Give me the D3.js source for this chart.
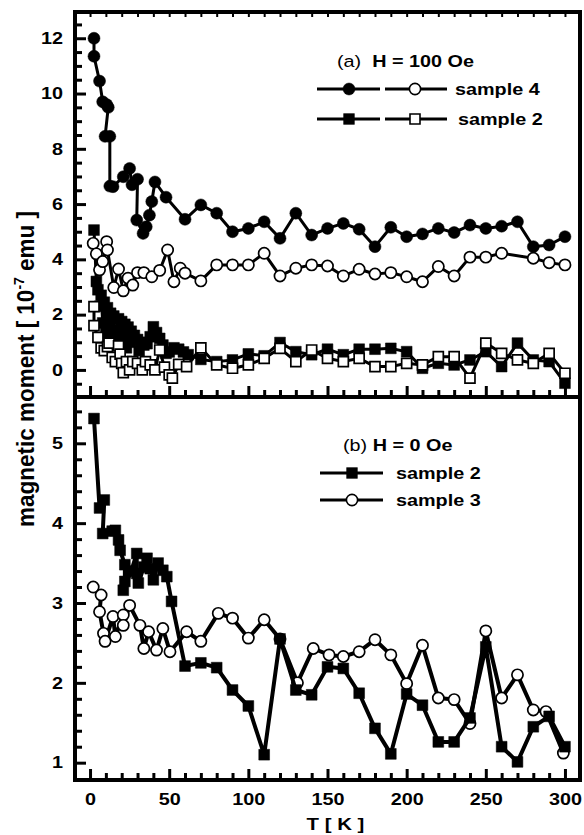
<!DOCTYPE html>
<html><head><meta charset="utf-8">
<script src="https://cdn.jsdelivr.net/npm/d3@7"></script>
<style>
body{margin:0;background:#fff}
svg{display:block}
text{font-family:"Liberation Sans",Arial,Helvetica,sans-serif;fill:#000}
</style>
</head><body>
<svg id="chart" width="584" height="835"></svg>
<script>
// ---------- data ----------
// Panel (a), H = 100 Oe
const s4FilledT = [2.5,2.5,6,8,10.5,11.5,9.5,12.5,12.5,14.5,21,25,26.5,30,29.5,33.5,35.5,37.5,39,41,48,60,70,80,90,100,110,120,130,140,150,160,170,180,190,200,210,220,230,240,250,260,270,280,290,300];
const s4FilledV = [12.0,11.35,10.45,9.7,9.6,9.5,8.45,8.45,6.65,6.63,6.99,7.29,6.7,6.9,5.42,4.94,5.18,5.6,6.09,6.8,6.25,5.45,5.97,5.67,5.0,5.12,5.36,4.76,5.67,4.88,5.12,5.3,5.09,4.46,5.16,4.82,4.92,5.12,4.97,5.24,5.12,5.2,5.36,4.46,4.52,4.82];

const s4OpenT = [2,4,6,8,10.5,11,15,18,21,24,27,30,34,39,44,49,53,57,60,70,80,90,100,110,120,130,140,150,160,170,180,190,200,210,220,230,240,250,260,280,290,300];
const s4OpenV = [4.58,4.2,3.62,3.92,4.64,4.34,2.98,3.65,2.86,3.32,3.07,3.52,3.52,3.37,3.6,4.34,3.19,3.68,3.5,3.22,3.8,3.8,3.8,4.22,3.4,3.68,3.8,3.76,3.4,3.64,3.47,3.52,3.37,3.19,3.74,3.4,4.08,4.08,4.22,4.04,3.88,3.8];

const s2aFilledT = [2.5,4,5,6,7,8,9,10,11,12,13,14,15,16,18,19,20,21,22,23,24,25,26,28,30,31,32,34,36,38,40,42,44,46,48,50,53,56,59,62,70,80,90,100,110,120,130,140,150,160,170,180,190,200,210,220,230,240,250,260,270,280,290,300];
const s2aFilledV = [5.06,3.2,2.9,2.3,2.7,1.7,2.45,1.35,2.25,1.15,2.05,1.0,1.95,1.2,1.85,0.9,1.75,1.0,1.65,0.8,1.55,1.0,1.4,1.25,1.1,0.7,1.0,0.9,0.95,1.2,1.56,1.35,1.14,0.9,0.6,0.65,0.8,0.75,0.65,0.55,0.38,0.3,0.36,0.58,0.51,0.99,0.66,0.55,0.75,0.55,0.75,0.75,0.78,0.66,0.06,0.24,0.18,0.36,0.66,0.12,0.97,0.36,0.3,-0.48];

const s2aOpenT = [2.5,2.5,5,7,9,11,12,14,16,18,19,20,21,23,25,27,30,33,35,38,41,44,47,50,52,56,61,70,80,90,100,110,120,130,140,150,160,170,180,190,200,210,220,230,240,250,260,270,280,290,300];
const s2aOpenV = [2.29,1.6,1.18,0.8,0.7,0.84,0.97,0.45,0.3,0.87,0.57,0.24,-0.1,0.3,0.0,0.3,0.24,0.0,0.3,0.18,0.0,0.72,0.1,-0.18,-0.3,0.2,0.12,0.8,0.18,0.06,0.18,0.42,0.78,0.3,0.72,0.42,0.3,0.42,0.12,0.12,0.24,0.18,0.48,0.48,-0.3,0.97,0.6,0.36,0.24,0.6,-0.12];

// Panel (b), H = 0 Oe
const s2bT = [2.5,6,9,8,14,16,18,19,22,22,21,26,29.5,29.5,30.5,34,36,38,40,43,46,48.5,51.5,60,70,80,90,100,110,120,130,140,150,160,170,180,190,200,210,220,230,240,250,260,270,280,290,300];
const s2bV = [5.31,4.19,4.29,3.87,3.9,3.91,3.79,3.66,3.48,3.27,3.16,3.4,3.62,3.37,3.25,3.45,3.56,3.43,3.29,3.5,3.41,3.33,3.02,2.21,2.25,2.19,1.91,1.71,1.1,2.55,1.91,1.85,2.2,2.18,1.87,1.43,1.11,1.86,1.72,1.26,1.26,1.56,2.45,1.2,1.01,1.45,1.58,1.2];

const s3bT = [2,7,6,8.5,9.5,14.5,16,21,21,25,31.5,34,37,42,46,50.5,61,70,81,90,100,110,120,131,141,151,160,170,180,190,200,210,220,230,240,250,260,270,280,288,299];
const s3bV = [3.2,3.1,2.89,2.62,2.52,2.83,2.58,2.85,2.72,2.97,2.72,2.43,2.64,2.41,2.68,2.39,2.64,2.52,2.87,2.81,2.56,2.79,2.55,2.0,2.43,2.35,2.33,2.39,2.54,2.35,1.99,2.47,1.81,1.79,1.49,2.65,1.81,2.1,1.66,1.64,1.12];

// ticks
const xMajor = [0,50,100,150,200,250,300];
const yaMajor = [0,2,4,6,8,10,12];
const ybMajor = [1,2,3,4,5];

// ---------- setup ----------
const svg = d3.select("#chart");
const X0 = 75, X1 = 580, YT = 12, YM = 397, YB = 780;
const xs = d3.scaleLinear().domain([-9.5, 309.5]).range([X0, X1]);
const ya = d3.scaleLinear().domain([-0.98, 12.95]).range([YM, YT]);
const yb = d3.scaleLinear().domain([0.783, 5.58]).range([YB, YM]);
const SX = 1.2; // horizontal stretch of the scanned lettering
const FS = 16.5;

function range(a, b, s) { const r = []; for (let v = a; v <= b + 1e-9; v += s) r.push(+v.toFixed(4)); return r; }
const xMinor = range(0, 300, 10).filter(v => !xMajor.includes(v));
const yaMinor = range(-0.5, 12.5, 0.5).filter(v => !yaMajor.includes(v));
const ybMinor = range(1.2, 5.4, 0.2).filter(v => !ybMajor.some(m => Math.abs(m - v) < 1e-6));

// ---------- axes ----------
function styleAxis(g) {
  g.select(".domain").remove();
  g.selectAll(".tick line").attr("stroke", "#000").attr("stroke-width", 3);
}
function stretchLabels(g) {
  g.selectAll(".tick text").each(function() {
    const t = d3.select(this);
    const x = +t.attr("x") || 0, y = +t.attr("y") || 0;
    t.attr("x", 0).attr("y", 0)
     .attr("transform", `translate(${x},${y}) scale(${SX},1)`)
     .attr("font-size", FS).attr("font-weight", "bold").attr("font-family", '"Liberation Sans",Arial,sans-serif');
  });
}

[[ya, yaMajor, yaMinor], [yb, ybMajor, ybMinor]].forEach(([sc, maj, mnr]) => {
  const gMin = svg.append("g").attr("transform", `translate(${X0},0)`)
    .call(d3.axisLeft(sc).tickValues(mnr).tickSize(-7).tickFormat(""));
  styleAxis(gMin);
  const gMaj = svg.append("g").attr("transform", `translate(${X0},0)`)
    .call(d3.axisLeft(sc).tickValues(maj).tickSize(-11).tickPadding(12).tickFormat(d3.format("d")));
  styleAxis(gMaj); stretchLabels(gMaj);
});

[[YM, false], [YB, true]].forEach(([yy, labels]) => {
  const gMin = svg.append("g").attr("transform", `translate(0,${yy})`)
    .call(d3.axisBottom(xs).tickValues(xMinor).tickSize(-7).tickFormat(""));
  styleAxis(gMin);
  const ax = d3.axisBottom(xs).tickValues(xMajor).tickSize(-11).tickPadding(13);
  if (!labels) ax.tickFormat("");
  const gMaj = svg.append("g").attr("transform", `translate(0,${yy})`).call(ax);
  styleAxis(gMaj); if (labels) stretchLabels(gMaj);
});

const gTop = svg.append("g").attr("transform", `translate(0,${YT})`)
  .call(d3.axisTop(xs).tickValues(range(0, 300, 10)).tickSize(-5).tickFormat(""));
gTop.select(".domain").remove();
gTop.selectAll(".tick line").attr("stroke", "#000").attr("stroke-width", 2);

// ---------- series ----------
const sym = (type, size) => d3.symbol().type(type).size(size)();
const CIRC_F = sym(d3.symbolCircle, Math.PI * 6 * 6);
const CIRC_O = sym(d3.symbolCircle, Math.PI * 5.6 * 5.6);
const SQ = sym(d3.symbolSquare, 10.8 * 10.8);
const SQ_O = sym(d3.symbolSquare, 10 * 10);

function series(T, V, yScale, shape, filled, lw) {
  const pts = T.map((t, i) => [t, V[i]]);
  const g = svg.append("g");
  g.append("path").datum(pts)
    .attr("d", d3.line().x(d => xs(d[0])).y(d => yScale(d[1])))
    .attr("fill", "none").attr("stroke", "#000").attr("stroke-width", lw)
    .attr("stroke-linejoin", "round");
  g.selectAll("path.m").data(pts).join("path").attr("class", "m")
    .attr("transform", d => `translate(${xs(d[0])},${yScale(d[1])})`)
    .attr("d", shape === "circle" ? (filled ? CIRC_F : CIRC_O) : (filled ? SQ : SQ_O))
    .attr("fill", filled ? "#000" : "#fff")
    .attr("stroke", "#000").attr("stroke-width", filled ? 0.5 : 1.7);
}

series(s4FilledT, s4FilledV, ya, "circle", true, 3);
series(s2aFilledT, s2aFilledV, ya, "square", true, 3);
series(s4OpenT, s4OpenV, ya, "circle", false, 3);
series(s2aOpenT, s2aOpenV, ya, "square", false, 3);
series(s3bT, s3bV, yb, "circle", false, 4);
series(s2bT, s2bV, yb, "square", true, 4);

// ---------- frame ----------
const fr = svg.append("g").attr("stroke", "#000").attr("stroke-width", 4).attr("fill", "none");
fr.append("rect").attr("x", X0).attr("y", YT).attr("width", X1 - X0).attr("height", YB - YT);
fr.append("line").attr("x1", X0).attr("x2", X1).attr("y1", YM).attr("y2", YM);

// ---------- text helpers ----------
function stext(x, y, anchor) {
  return svg.append("text")
    .attr("transform", `translate(${x},${y}) scale(${SX},1)`)
    .attr("text-anchor", anchor || "start")
    .attr("font-size", FS).attr("font-weight", "bold");
}

// ---------- legends ----------
function legendMarker(cx, cy, shape, filled) {
  svg.append("path").attr("transform", `translate(${cx},${cy})`)
    .attr("d", shape === "circle" ? (filled ? CIRC_F : CIRC_O) : (filled ? SQ : SQ_O))
    .attr("fill", filled ? "#000" : "#fff").attr("stroke", "#000").attr("stroke-width", filled ? 0.5 : 1.6);
}
function legendLine(xa, xb, y) {
  svg.append("line").attr("x1", xa).attr("x2", xb).attr("y1", y).attr("y2", y)
    .attr("stroke", "#000").attr("stroke-width", 3);
}

let t = stext(337, 67);
t.append("tspan").attr("font-weight", "normal").text("(a)");
t.append("tspan").text("\u00a0 H = 100 Oe");
legendLine(317, 380, 89); legendLine(385, 447, 89);
legendMarker(349, 89, "circle", true); legendMarker(415, 89, "circle", false);
stext(455, 95).text("sample 4");
legendLine(317, 380, 119); legendLine(385, 447, 119);
legendMarker(349, 119, "square", true); legendMarker(415, 119, "square", false);
stext(458, 125).text("sample 2");

t = stext(343, 451);
t.append("tspan").attr("font-weight", "normal").text("(b)");
t.append("tspan").text(" H = 0 Oe");
legendLine(320, 383, 473); legendMarker(352, 473, "square", true);
stext(396, 479).text("sample 2");
legendLine(320, 383, 500); legendMarker(352, 500, "circle", false);
stext(396, 506).text("sample 3");

// ---------- axis titles ----------
stext(335.5, 830, "middle").attr("font-size", 17).text("T [ K ]");

const yl = svg.append("text")
  .attr("transform", `translate(34,369) scale(1.1,1) rotate(-90)`)
  .attr("text-anchor", "middle").attr("font-size", 22.5).attr("font-weight", "bold");
yl.append("tspan").text("magnetic moment [ 10");
yl.append("tspan").attr("font-size", 14).attr("dy", "-9").text("-7");
yl.append("tspan").attr("dy", "9").text(" emu ]");
</script>
</body></html>
